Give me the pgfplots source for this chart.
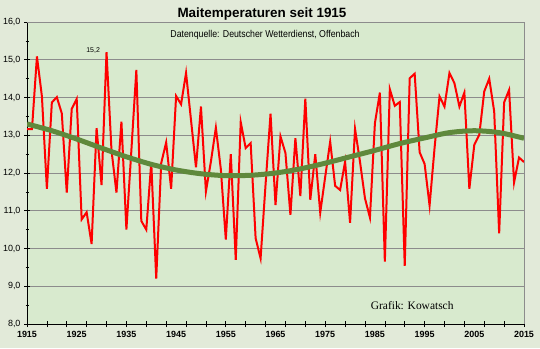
\documentclass[border=0pt]{standalone}
\usepackage{fontspec}
\setmainfont{Liberation Sans}
\newfontfamily\serifgraf{Liberation Serif}
\newfontfamily\narrowsans[FakeStretch=0.88]{Liberation Sans}
\usepackage{pgfplots}
\pgfplotsset{compat=1.18}
\definecolor{outerbg}{RGB}{226,234,217}
\definecolor{innerbg}{RGB}{216,234,206}
\definecolor{trendgreen}{RGB}{95,137,60}
\definecolor{gridgray}{RGB}{140,140,140}
\begin{document}
\begin{tikzpicture}[x=1bp,y=1bp]
\fill[outerbg] (-27,-24) rectangle (513,324);
\begin{axis}[
  at={(0,0)}, anchor=south west,
  scale only axis, width=497bp, height=302bp,
  xmin=1915, xmax=2015, ymin=8, ymax=16,
  axis background/.style={fill=innerbg},
  axis x line*=bottom, axis y line*=left,
  axis line style={black, line width=0.8pt},
  tick style={black, line width=0.7pt},
  tick align=center,
  major tick length=6bp, minor tick length=3bp,
  ytick={8,9,...,16}, minor y tick num=1,
  ymajorgrids, major grid style={gridgray, line width=0.8pt},
  yticklabel style={font=\fontsize{9}{10}\selectfont, /pgf/number format/.cd, fixed, fixed zerofill, precision=1, use comma, assume math mode=true},
  xtick={1915,1919,...,2015}, xticklabels={},
  extra x ticks={1915,1925,...,2015},
  extra x tick labels={1915,1925,1935,1945,1955,1965,1975,1985,1995,2005,2015},
  extra x tick style={major tick length=0pt, xticklabel style={font=\bfseries\fontsize{9}{10}\selectfont, yshift=-4bp}},
]
\addplot[red, line width=2bp] coordinates {
(1915,13.16) (1916,13.16) (1917,15.09) (1918,14.03) (1919,11.58) (1920,13.87)
(1921,14.01) (1922,13.58) (1923,11.48) (1924,13.70) (1925,13.96) (1926,10.77)
(1927,10.96) (1928,10.12) (1929,13.19) (1930,11.68) (1931,15.2) (1932,12.6)
(1933,11.48) (1934,13.36) (1935,10.5) (1936,12.6) (1937,14.73) (1938,10.73)
(1939,10.5) (1940,12.28) (1941,9.2) (1942,12.26) (1943,12.81) (1944,11.58)
(1945,14.04) (1946,13.82) (1947,14.65) (1948,13.4) (1949,12.15) (1950,13.76)
(1951,11.51) (1952,12.3) (1953,13.2) (1954,12.1) (1955,10.24) (1956,12.5)
(1957,9.7) (1958,13.35) (1959,12.66) (1960,12.79) (1961,10.27) (1962,9.74)
(1963,11.7) (1964,13.57) (1965,11.15) (1966,12.97) (1967,12.53) (1968,10.89)
(1969,12.92) (1970,11.39) (1971,13.97) (1972,11.29) (1973,12.5) (1974,10.95)
(1975,11.9) (1976,12.83) (1977,11.66) (1978,11.55) (1979,12.3) (1980,10.68)
(1981,13.17) (1982,12.3) (1983,11.33) (1984,10.82) (1985,13.32) (1986,14.13)
(1987,9.65) (1988,14.22) (1989,13.78) (1990,13.88) (1991,9.54) (1992,14.51)
(1993,14.63) (1994,12.55) (1995,12.24) (1996,11.14) (1997,12.66) (1998,14.03)
(1999,13.76) (2000,14.65) (2001,14.38) (2002,13.76) (2003,14.13) (2004,11.58)
(2005,12.75) (2006,13.01) (2007,14.16) (2008,14.5) (2009,13.63) (2010,10.4)
(2011,13.87) (2012,14.2) (2013,11.75) (2014,12.41) (2015,12.29)
};
\addplot[trendgreen, line width=5bp, smooth] coordinates {
(1915,13.30) (1920,13.12) (1925,12.90) (1930,12.66) (1935,12.43) (1940,12.23)
(1945,12.08) (1950,11.98) (1955,11.93) (1960,11.94) (1965,12.00) (1970,12.11)
(1975,12.26) (1980,12.43) (1985,12.60) (1990,12.78) (1995,12.93) (2000,13.07)
(2005,13.12) (2010,13.07) (2015,12.92)
};
\node[font=\fontsize{7}{8}\selectfont] at (axis cs:1928.3,15.25) {15,2};
\node[font=\serifgraf\fontsize{11.5}{13}\selectfont] at (axis cs:1992.5,8.5) {Grafik: Kowatsch};
\end{axis}
\draw[gridgray, line width=0.8pt] (0,302) -- (497,302) -- (497,0);
\node[font=\bfseries\fontsize{13.5}{15}\selectfont] at (235,310) {Maitemperaturen seit 1915};
\node[font=\narrowsans\fontsize{10}{12}\selectfont] at (238,289) {Datenquelle: Deutscher Wetterdienst, Offenbach};
\pgfresetboundingbox
\useasboundingbox (-27,-24) rectangle (513,324);
\end{tikzpicture}
\end{document}
